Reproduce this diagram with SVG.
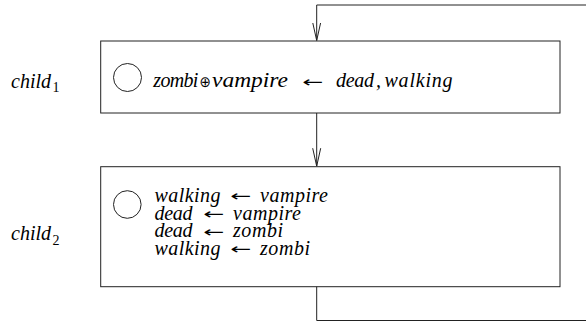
<svg xmlns="http://www.w3.org/2000/svg" width="586" height="324" viewBox="0 0 586 324">
<style>
.box{fill:#fff;stroke:#222;stroke-width:1}
.circ{fill:none;stroke:#222;stroke-width:1}
.edge{fill:none;stroke:#222;stroke-width:1}
.t{font-family:"Liberation Serif",serif;font-style:italic;font-size:20px;fill:#000}
.sub{font-family:"Liberation Serif",serif;font-size:14px;fill:#000}
.sym{font-family:"DejaVu Sans",sans-serif;font-size:15px;fill:#000}
</style>
<defs>
<marker id="v" markerWidth="20" markerHeight="10" refX="18" refY="5" orient="auto" markerUnits="userSpaceOnUse" viewBox="0 0 20 10">
<path d="M0,1 L18,5 L0,9" fill="none" stroke="#222" stroke-width="1"/>
</marker>
</defs>
<g id="connectors">
<path class="edge" d="M586,5 H316.7 V40.5" marker-end="url(#v)"/>
<path class="edge" d="M316.7,113 V166.2" marker-end="url(#v)"/>
<path class="edge" d="M316.7,284 V320.5 H586"/>
</g>
<g id="label1">
<text class="t" x="11" y="87.5">child</text>
<text class="sub" x="52.5" y="92">1</text>
</g>
<g id="label2">
<text class="t" x="11" y="240">child</text>
<text class="sub" x="52.5" y="244.5">2</text>
</g>
<g id="child1">
<rect class="box" x="100.7" y="41" width="459.3" height="72"/>
<circle class="circ" cx="127.5" cy="77.5" r="14"/>
<text class="t" x="153.3" y="87.3" textLength="45" lengthAdjust="spacing">zombi</text>
<text class="sym" x="199.5" y="87" font-size="18" textLength="11.5" lengthAdjust="spacingAndGlyphs">⊕</text>
<text class="t" x="212" y="87.3" textLength="76" lengthAdjust="spacingAndGlyphs">vampire</text>
<text class="sym" x="302" y="86.5" textLength="21" lengthAdjust="spacingAndGlyphs">←</text>
<text class="t" x="336" y="87.3" textLength="38" lengthAdjust="spacing">dead</text>
<text class="t" x="376" y="87.3">,</text>
<text class="t" x="384.5" y="87.3" textLength="68" lengthAdjust="spacing">walking</text>
</g>
<g id="child2">
<rect class="box" x="100.7" y="166.7" width="459.3" height="120"/>
<circle class="circ" cx="127.3" cy="204.5" r="13.8"/>
<text class="t" x="154.5" y="201.7" textLength="66" lengthAdjust="spacing">walking</text>
<text class="sym" x="230" y="201" textLength="21" lengthAdjust="spacingAndGlyphs">←</text>
<text class="t" x="260" y="201.7" textLength="68" lengthAdjust="spacing">vampire</text>
<text class="t" x="154.5" y="219.5" textLength="38" lengthAdjust="spacing">dead</text>
<text class="sym" x="203" y="218.8" textLength="21" lengthAdjust="spacingAndGlyphs">←</text>
<text class="t" x="233" y="219.5" textLength="68" lengthAdjust="spacing">vampire</text>
<text class="t" x="154.5" y="237.3" textLength="38" lengthAdjust="spacing">dead</text>
<text class="sym" x="203" y="236.6" textLength="21" lengthAdjust="spacingAndGlyphs">←</text>
<text class="t" x="233" y="237.3" textLength="50" lengthAdjust="spacing">zombi</text>
<text class="t" x="154.5" y="255" textLength="66" lengthAdjust="spacing">walking</text>
<text class="sym" x="230" y="254.3" textLength="21" lengthAdjust="spacingAndGlyphs">←</text>
<text class="t" x="260" y="255" textLength="50" lengthAdjust="spacing">zombi</text>
</g>
</svg>
